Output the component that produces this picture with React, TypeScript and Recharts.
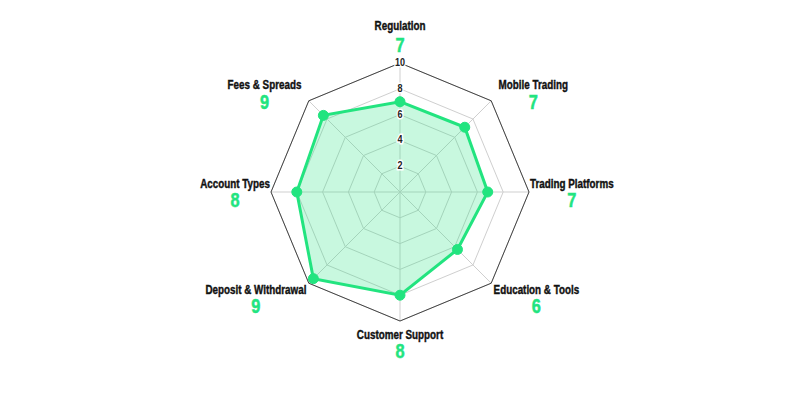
import { RadarChart, Radar, PolarGrid, PolarAngleAxis, PolarRadiusAxis } from "recharts";

const categories = [
  "Regulation",
  "Mobile Trading",
  "Trading Platforms",
  "Education & Tools",
  "Customer Support",
  "Deposit & Withdrawal",
  "Account Types",
  "Fees & Spreads",
];
const plotted = [7, 7.1, 6.8, 6.3, 8, 9.5, 8, 8.4];
const scores = [7, 7, 7, 6, 8, 9, 8, 9];
const radiusTicks = [2, 4, 6, 8, 10];

const GREEN = "#22e47f";
const CX = 400;
const CY = 192;
const R = 129;
const FONT = "'Liberation Sans', Arial, sans-serif";
const NARROW = 0.82; // squeeze to look like a narrow face

const chartData = categories.map((name, i) => ({ name, value: plotted[i], score: scores[i] }));

let ctx: CanvasRenderingContext2D | null = null;
const measure = (text: string) => {
  if (!ctx) ctx = document.createElement("canvas").getContext("2d");
  if (!ctx) return text.length * 6;
  ctx.font = `bold 12px ${FONT}`;
  return ctx.measureText(text).width * NARROW;
};

const NarrowText = ({ x, y, children, ...rest }: any) => (
  <text transform={`translate(${x},${y}) scale(${NARROW},1)`} x={0} y={0} fontFamily={FONT} {...rest}>
    {children}
  </text>
);

const AngleTick = (props: any) => {
  const name = props.payload.value;
  const i = categories.indexOf(name);
  const a = ((90 - 45 * i) * Math.PI) / 180;
  const cos = Math.round(Math.cos(a) * 100) / 100;
  const sin = Math.round(Math.sin(a) * 100) / 100;
  const vx = CX + R * cos;
  const vy = CY - R * sin;
  const w = measure(name);

  let nameX = vx, nameY = vy, numX = vx, numY = vy;
  let anchor: "start" | "end" | "middle" = "middle";
  if (Math.abs(cos) < 0.1) {
    // top / bottom
    if (sin > 0) { nameY = vy - 33; numY = vy - 11; }
    else { nameY = vy + 18; numY = vy + 37; }
  } else {
    const side = cos > 0 ? 1 : -1;
    anchor = side > 0 ? "start" : "end";
    if (sin > 0.1) { nameX = vx + side * 7; nameY = vy - 11; numY = vy + 9; }
    else if (sin < -0.1) { nameX = vx + side * 2; nameY = vy + 10; numY = vy + 29; }
    else { nameX = vx + side * 1; nameY = vy - 4; numY = vy + 15; }
    numX = nameX + side * (w / 2);
  }

  return (
    <g>
      <NarrowText
        x={nameX}
        y={nameY}
        textAnchor={anchor}
        fontWeight="bold"
        fontSize={12}
        fill="#111"
        stroke="#111"
        strokeWidth={0.4}
      >
        {name}
      </NarrowText>
      <NarrowText
        x={numX}
        y={numY}
        textAnchor="middle"
        fontWeight="bold"
        fontSize={20}
        fill={GREEN}
        stroke={GREEN}
        strokeWidth={0.5}
      >
        {scores[i]}
      </NarrowText>
    </g>
  );
};

const RadiusTick = (props: any) => {
  const { x, y, payload } = props;
  return (
    <NarrowText
      x={x}
      y={y + 3}
      textAnchor="middle"
      fontSize={11}
      fontWeight="bold"
      fill="#222"
      stroke="#fff"
      strokeWidth={3}
      paintOrder="stroke"
    >
      {payload.value}
    </NarrowText>
  );
};

export default function App() {
  return (
    <div style={{ position: "absolute", left: 0, top: 0, width: 800, height: 400, background: "#fff" }}>
      <RadarChart
        width={800}
        height={400}
        cx={CX}
        cy={CY}
        outerRadius={R}
        data={chartData}
        margin={{ top: 0, right: 0, bottom: 0, left: 0 }}
      >
        <PolarGrid gridType="polygon" stroke="#cfcfcf" />
        <PolarGrid gridType="polygon" stroke="#444" polarRadius={[R]} radialLines={false} />
        <PolarAngleAxis dataKey="name" tick={<AngleTick />} tickLine={false} axisLine={false} />
        <Radar
          dataKey="value"
          stroke={GREEN}
          strokeWidth={3}
          fill={GREEN}
          fillOpacity={0.25}
          dot={{ r: 5, fill: GREEN, stroke: GREEN, strokeWidth: 1, fillOpacity: 1 }}
          isAnimationActive={false}
        />
        <PolarRadiusAxis
          angle={90}
          domain={[0, 10]}
          ticks={radiusTicks as any}
          tick={<RadiusTick />}
          axisLine={false}
          tickLine={false}
        />
      </RadarChart>
    </div>
  );
}
